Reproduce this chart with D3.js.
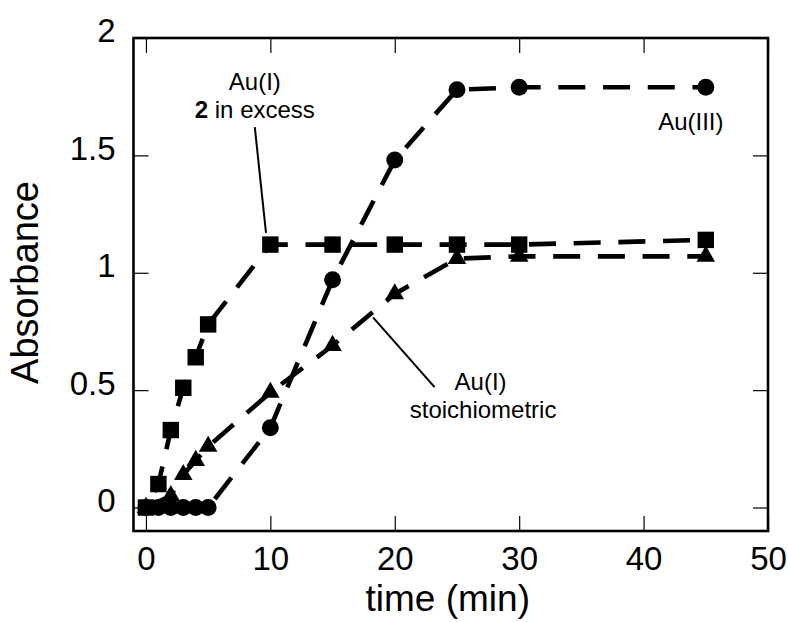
<!DOCTYPE html>
<html>
<head>
<meta charset="utf-8">
<script src="https://cdn.jsdelivr.net/npm/d3@7"></script>
<style>
  html, body { margin: 0; padding: 0; background: #fff; }
  svg { display: block; font-family: "Liberation Sans", Arial, Helvetica, sans-serif; }
</style>
</head>
<body>
<svg id="chart" width="788" height="622"></svg>
<script>
// Absorbance vs. time for the three gold systems
const timeAuIExcess = [0, 1, 2, 3, 4, 5, 10, 15, 20, 25, 30, 45];
const absAuIExcess  = [0, 0.1, 0.33, 0.51, 0.64, 0.78, 1.12, 1.12, 1.12, 1.12, 1.12, 1.14];

const timeAuIII = [0, 1, 2, 3, 4, 5, 10, 15, 20, 25, 30, 45];
const absAuIII  = [0, 0, 0, 0, 0, 0, 0.34, 0.97, 1.48, 1.78, 1.79, 1.79];

const timeAuIStoich = [0, 2, 3, 4, 5, 10, 15, 20, 25, 30, 45];
const absAuIStoich  = [0, 0.05, 0.14, 0.2, 0.26, 0.49, 0.69, 0.91, 1.06, 1.07, 1.07];

const xTicks = [0, 10, 20, 30, 40, 50];
const xTickLabels = ["0", "10", "20", "30", "40", "50"];
const yTicks = [0, 0.5, 1, 1.5, 2];
const yTickLabels = ["0", "0.5", "1", "1.5", "2"];

const svg = d3.select("#chart");

const x = d3.scaleLinear().domain([-1, 50]).range([133.5, 768]);
const y = d3.scaleLinear().domain([-0.1, 2]).range([531, 38]);

const TICK = 15;

// axes with inward ticks on all four sides
const gBottom = svg.append("g").attr("transform", `translate(0,${y(-0.1)})`)
  .call(d3.axisBottom(x).tickValues(xTicks).tickSize(-TICK).tickPadding(16)
        .tickFormat((d, i) => xTickLabels[i]));
const gTop = svg.append("g").attr("transform", `translate(0,${y(2)})`)
  .call(d3.axisTop(x).tickValues(xTicks).tickSize(-TICK).tickFormat(""));
const gLeft = svg.append("g").attr("transform", `translate(${x(-1)},0)`)
  .call(d3.axisLeft(y).tickValues(yTicks).tickSize(-TICK).tickPadding(18)
        .tickFormat((d, i) => yTickLabels[i]));
const gRight = svg.append("g").attr("transform", `translate(${x(50)},0)`)
  .call(d3.axisRight(y).tickValues(yTicks).tickSize(-TICK).tickFormat(""));

[gBottom, gTop, gLeft, gRight].forEach(g => {
  g.select(".domain").remove();
  g.selectAll(".tick line").attr("stroke", "#000").attr("stroke-width", 1.2);
  g.selectAll(".tick text").attr("fill", "#000").attr("font-size", 33)
    .attr("font-family", "'Liberation Sans', Arial, Helvetica, sans-serif");
});
gLeft.selectAll(".tick text").attr("dy", "0.12em");

// plot frame
svg.append("rect")
  .attr("x", x(-1)).attr("y", y(2))
  .attr("width", x(50) - x(-1)).attr("height", y(-0.1) - y(2))
  .attr("fill", "none").attr("stroke", "#000").attr("stroke-width", 2.6);

// axis titles
svg.append("text")
  .attr("x", (x(-1) + x(50)) / 2 - 3).attr("y", 611)
  .attr("text-anchor", "middle").attr("font-size", 37).attr("fill", "#000")
  .text("time (min)");
svg.append("text")
  .attr("transform", `translate(38,${(y(2) + y(-0.1)) / 2 - 2}) rotate(-90)`)
  .attr("text-anchor", "middle").attr("font-size", 38).attr("fill", "#000")
  .text("Absorbance");

// dashed series lines; the dash phase is pinned to one vertex of each curve
const DASH = 27, GAP = 17.7;
const line = d3.line().x(d => x(d[0])).y(d => y(d[1]));

function series(ts, vs) { return ts.map((t, i) => [t, vs[i]]); }

function drawLine(pts, anchorIndex) {
  let len = 0;
  for (let i = 1; i <= anchorIndex; i++) {
    len += Math.hypot(x(pts[i][0]) - x(pts[i - 1][0]), y(pts[i][1]) - y(pts[i - 1][1]));
  }
  const period = DASH + GAP;
  const offset = ((-len % period) + period) % period;
  svg.append("path")
    .attr("d", line(pts))
    .attr("fill", "none").attr("stroke", "#000").attr("stroke-width", 4.6)
    .attr("stroke-dasharray", `${DASH},${GAP}`)
    .attr("stroke-dashoffset", -offset);
}

const sqPts  = series(timeAuIExcess, absAuIExcess);
const cirPts = series(timeAuIII, absAuIII);
const triPts = series(timeAuIStoich, absAuIStoich);

drawLine(triPts, 5);
drawLine(cirPts, 9);
drawLine(sqPts, 6);

function drawMarkers(pts, type, size) {
  svg.append("g").selectAll("path").data(pts).join("path")
    .attr("transform", d => `translate(${x(d[0])},${y(d[1])})`)
    .attr("d", d3.symbol().type(type).size(size))
    .attr("fill", "#000");
}

drawMarkers(triPts, d3.symbolTriangle, 150);
drawMarkers(cirPts, d3.symbolCircle, 225);
drawMarkers(sqPts, d3.symbolSquare, 270);

// annotations
const annFont = 24;
function label(tx, ty, parts) {
  const t = svg.append("text").attr("x", x(tx)).attr("y", y(ty))
    .attr("text-anchor", "middle").attr("font-size", annFont).attr("fill", "#000");
  parts.forEach(p => t.append("tspan").attr("font-weight", p.bold ? "bold" : "normal").text(p.text));
}
function leader(x1, y1, x2, y2) {
  svg.append("line")
    .attr("x1", x(x1)).attr("y1", y(y1)).attr("x2", x(x2)).attr("y2", y(y2))
    .attr("stroke", "#000").attr("stroke-width", 2);
}

label(8.75, 1.78, [{ text: "Au(I)" }]);
label(8.75, 1.66, [{ text: "2", bold: true }, { text: " in excess" }]);
leader(8.75, 1.62, 9.65, 1.17);

label(43.8, 1.61, [{ text: "Au(III)" }]);

label(26.9, 0.5, [{ text: "Au(I)" }]);
label(27.1, 0.382, [{ text: "stoichiometric" }]);
leader(18.25, 0.81, 23.2, 0.513);
</script>
</body>
</html>
